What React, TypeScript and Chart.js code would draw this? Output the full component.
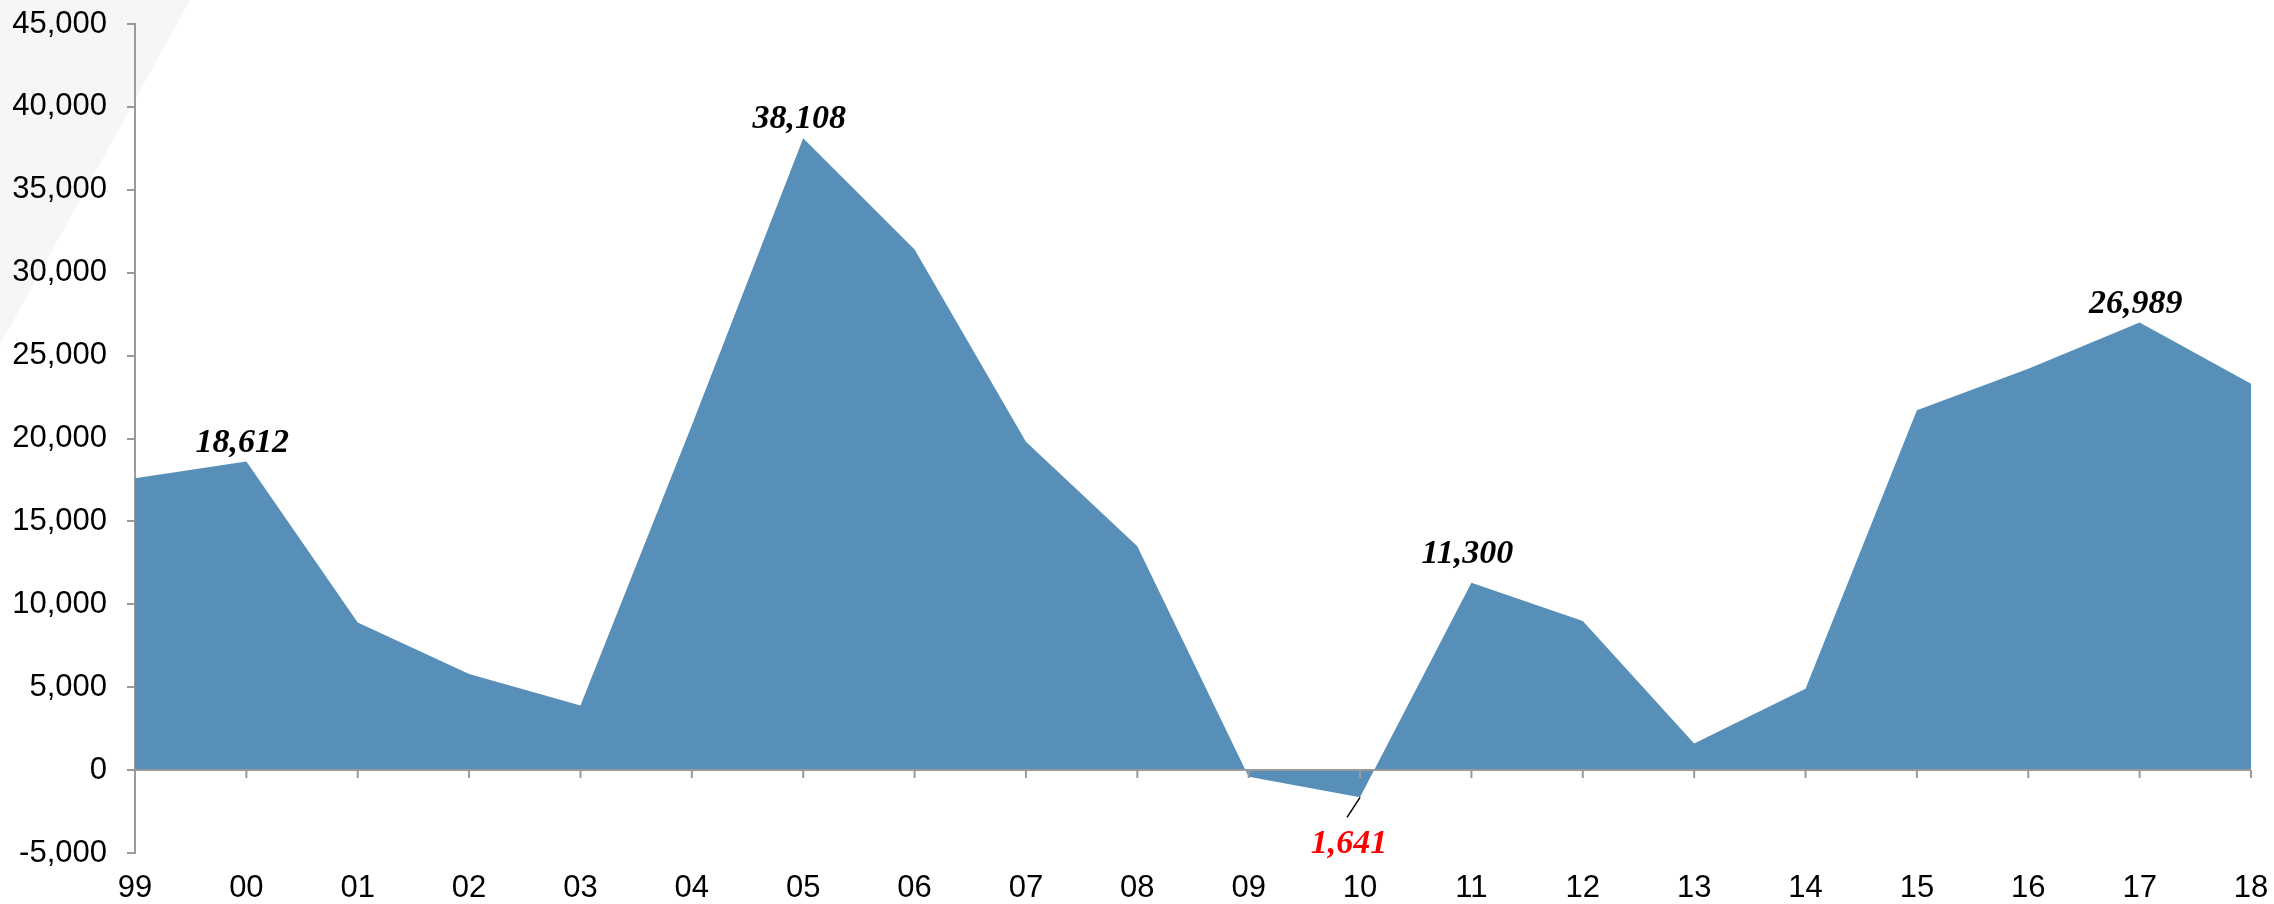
import { useEffect, useRef } from "react";
import { Chart, registerables } from "chart.js";

Chart.register(...registerables);

const categories = ["99", "00", "01", "02", "03", "04", "05", "06", "07", "08", "09", "10", "11", "12", "13", "14", "15", "16", "17", "18"];
const values = [17600, 18612, 8900, 5800, 3900, 20800, 38108, 31400, 19800, 13500, -400, -1641, 11300, 9000, 1600, 4900, 21700, 24200, 26989, 23300];
const labeledIndices = [1, 6, 11, 12, 18];
const yMin = -5000;
const yMax = 45000;
const yStep = 5000;

const fillColor = "#578fb8";
const axisColor = "#9a9a9a";

const fmt = (v: number) => Math.abs(v).toLocaleString("en-US");

const backgroundPlugin = {
  id: "bgWedge",
  beforeDraw(chart: any) {
    const ctx = chart.ctx;
    ctx.save();
    ctx.fillStyle = "#ffffff";
    ctx.fillRect(0, 0, chart.width, chart.height);
    ctx.fillStyle = "#f6f6f6";
    ctx.beginPath();
    ctx.moveTo(0, 0);
    ctx.lineTo(190, 0);
    ctx.lineTo(0, 345);
    ctx.closePath();
    ctx.fill();
    ctx.restore();
  },
};

const zeroAxisPlugin = {
  id: "zeroAxis",
  afterDatasetsDraw(chart: any) {
    const ctx = chart.ctx;
    const x = chart.scales.x;
    const y = chart.scales.y;
    const y0 = y.getPixelForValue(0);
    ctx.save();
    ctx.strokeStyle = axisColor;
    ctx.lineWidth = 2;
    ctx.beginPath();
    ctx.moveTo(chart.chartArea.left, y0);
    ctx.lineTo(chart.chartArea.right, y0);
    for (let i = 0; i < categories.length; i++) {
      const px = x.getPixelForValue(i);
      ctx.moveTo(px, y0);
      ctx.lineTo(px, y0 + 8);
    }
    ctx.stroke();
    ctx.restore();
  },
};

const dataLabelPlugin = {
  id: "dataLabels",
  afterDatasetsDraw(chart: any) {
    const ctx = chart.ctx;
    const meta = chart.getDatasetMeta(0);
    ctx.save();
    ctx.font = "italic bold 34px 'Liberation Serif', 'Times New Roman', serif";
    ctx.textAlign = "center";
    ctx.textBaseline = "alphabetic";
    labeledIndices.forEach((i) => {
      const pt = meta.data[i];
      const v = values[i];
      if (v < 0) {
        ctx.strokeStyle = "#000";
        ctx.lineWidth = 1.5;
        ctx.beginPath();
        ctx.moveTo(pt.x, pt.y);
        ctx.lineTo(pt.x - 13, pt.y + 20);
        ctx.stroke();
        ctx.fillStyle = "#ff0000";
        ctx.fillText(fmt(v), pt.x - 11, pt.y + 56);
      } else {
        ctx.fillStyle = "#000";
        const off = i === 12 ? 20 : 10;
        ctx.fillText(fmt(v), pt.x - 4, pt.y - off);
      }
    });
    ctx.restore();
  },
};

export default function App() {
  const canvasRef = useRef<HTMLCanvasElement | null>(null);

  useEffect(() => {
    document.body.style.margin = "0";
    const canvas = canvasRef.current;
    if (!canvas) return;
    const chart = new Chart(canvas, {
      type: "line",
      data: {
        labels: categories,
        datasets: [
          {
            data: values,
            fill: "origin",
            backgroundColor: fillColor,
            borderWidth: 0,
            borderColor: fillColor,
            pointRadius: 0,
            tension: 0,
          },
        ],
      },
      options: {
        animation: false,
        responsive: true,
        maintainAspectRatio: false,
        devicePixelRatio: 1,
        layout: { padding: { top: 24, right: 23, left: 0, bottom: 0 } },
        plugins: {
          legend: { display: false },
          tooltip: { enabled: false },
        },
        scales: {
          x: {
            offset: false,
            grid: { display: false },
            border: { display: false },
            ticks: {
              color: "#000",
              font: { family: "'Liberation Sans', Arial, sans-serif", size: 31 },
              maxRotation: 0,
              autoSkip: false,
              padding: 9,
            },
            afterFit(scale: any) {
              scale.height = 51;
              scale.paddingLeft = 0;
              scale.paddingRight = 0;
            },
          },
          y: {
            min: yMin,
            max: yMax,
            ticks: {
              stepSize: yStep,
              color: "#000",
              font: { family: "'Liberation Sans', Arial, sans-serif", size: 31 },
              padding: 20,
              callback: (v: any) => Number(v).toLocaleString("en-US"),
            },
            grid: {
              display: true,
              drawOnChartArea: false,
              drawTicks: true,
              tickLength: 8,
              color: axisColor,
              lineWidth: 2,
            },
            border: { display: true, color: axisColor, width: 2 },
            afterFit(scale: any) {
              scale.width = 135;
              scale.paddingTop = 0;
              scale.paddingBottom = 0;
            },
          },
        },
      },
      plugins: [backgroundPlugin, zeroAxisPlugin, dataLabelPlugin],
    });
    return () => chart.destroy();
  }, []);

  return (
    <div style={{ width: 2274, height: 904, position: "relative" }}>
      <canvas ref={canvasRef} />
    </div>
  );
}
